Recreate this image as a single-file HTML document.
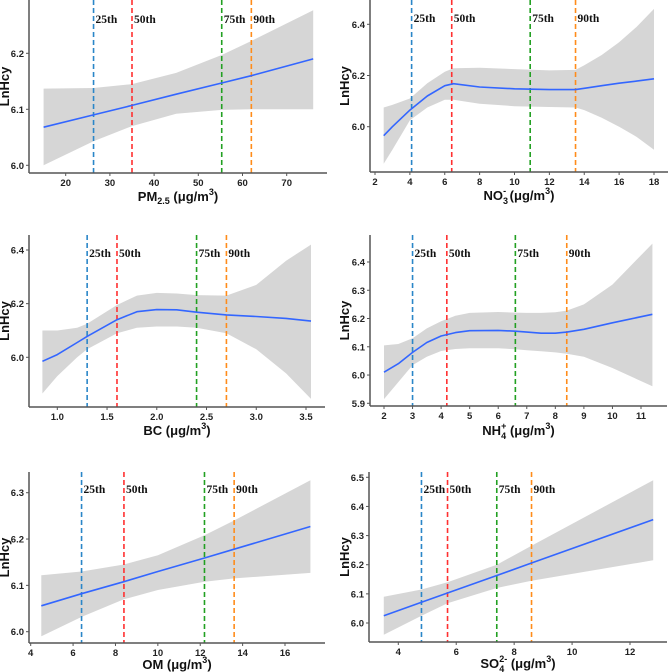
<!DOCTYPE html>
<html><head><meta charset="utf-8"><style>
body{margin:0;background:#fff}
svg{display:block}
.tk{font:bold 9.5px "Liberation Sans",sans-serif;fill:#222}
.pl{font:bold 11.5px "Liberation Serif",serif;fill:#111}
.yt{font:bold 13px "Liberation Sans",sans-serif;fill:#111}
.xt{font:bold 13px "Liberation Sans",sans-serif;fill:#111}
</style></head><body>
<svg id="c" width="669" height="672" xmlns="http://www.w3.org/2000/svg"></svg>
<script>
// ---- data ----
const pmX=[15,26.3,35,45,55.3,62,76];
const pmFit=[6.068,6.090,6.107,6.127,6.147,6.160,6.190];
const pmUp=[6.137,6.138,6.145,6.165,6.197,6.222,6.277];
const pmLo=[6.000,6.043,6.070,6.092,6.099,6.100,6.100];
const pmPct=[26.3,35,55.3,62];

const no3X=[2.5,3,4,5,6,6.5,8,10,12,13.5,14,15,16,17,18];
const no3Fit=[5.965,6.0,6.065,6.12,6.16,6.168,6.155,6.148,6.145,6.145,6.15,6.16,6.17,6.178,6.187];
const no3Up=[6.075,6.085,6.11,6.17,6.215,6.228,6.23,6.225,6.22,6.222,6.24,6.28,6.33,6.39,6.46];
const no3Lo=[5.855,5.91,6.025,6.075,6.105,6.105,6.09,6.08,6.077,6.075,6.065,6.035,6.0,5.96,5.91];
const no3Pct=[4.1,6.4,10.9,13.5];

const bcX=[0.85,1.0,1.2,1.3,1.6,1.8,2.0,2.2,2.4,2.7,3.0,3.3,3.55];
const bcFit=[5.985,6.01,6.055,6.078,6.14,6.17,6.178,6.177,6.168,6.158,6.152,6.145,6.135];
const bcUp=[6.10,6.10,6.11,6.125,6.195,6.23,6.24,6.238,6.232,6.23,6.27,6.36,6.42];
const bcLo=[5.865,5.93,6.0,6.03,6.09,6.11,6.115,6.115,6.11,6.09,6.03,5.94,5.845];
const bcPct=[1.3,1.6,2.4,2.7];

const nh4X=[2,2.5,3,3.5,4,4.5,5,6,6.6,7,7.5,8,8.4,9,10,11.4];
const nh4Fit=[6.01,6.04,6.08,6.115,6.138,6.15,6.157,6.158,6.155,6.152,6.148,6.148,6.152,6.162,6.185,6.215];
const nh4Up=[6.105,6.11,6.13,6.165,6.19,6.21,6.22,6.223,6.221,6.22,6.22,6.222,6.228,6.25,6.32,6.465];
const nh4Lo=[5.915,5.975,6.035,6.065,6.085,6.092,6.095,6.095,6.091,6.088,6.084,6.08,6.075,6.065,6.025,5.96];
const nh4Pct=[3.0,4.2,6.6,8.4];

const omX=[4.5,6.4,8.4,10,12.2,13.6,17.2];
const omFit=[6.056,6.082,6.108,6.130,6.159,6.178,6.227];
const omUp=[6.122,6.13,6.145,6.165,6.208,6.24,6.327];
const omLo=[5.99,6.032,6.07,6.09,6.108,6.115,6.127];
const omPct=[6.4,8.4,12.2,13.6];

const so4X=[3.5,4.8,5.7,7.4,8.6,12.8];
const so4Fit=[6.025,6.071,6.103,6.163,6.206,6.355];
const so4Up=[6.09,6.115,6.14,6.20,6.265,6.49];
const so4Lo=[5.96,6.025,6.068,6.12,6.145,6.215];
const so4Pct=[4.8,5.7,7.4,8.6];

const pctLabels=["25th","50th","75th","90th"];
const pctColors=["#2a86c8","#ff3030","#22a022","#ff8c1a"];

const NS="http://www.w3.org/2000/svg";
const svg=document.getElementById('c');
function mk(tag,attrs,parent){const e=document.createElementNS(NS,tag);for(const k in attrs)e.setAttribute(k,attrs[k]);(parent||svg).appendChild(e);return e;}

const panels=[
 {id:'pm25',X:pmX,F:pmFit,U:pmUp,L:pmLo,P:pmPct,ax:29,ay:173,top:0,right:327,x0:20,px0:65.7,x1:70,px1:286.7,y0:6.0,py0:165.3,y1:6.2,py1:53.3,xt:[20,30,40,50,60,70],yt:[6.0,6.1,6.2],xd:0,yd:1,labY:19,ytx:9,xty:201,title:['PM','2.5',' (μg/m','3',')'],mode:'sub'},
 {id:'no3',X:no3X,F:no3Fit,U:no3Up,L:no3Lo,P:no3Pct,ax:370,ay:172,top:0,right:668,x0:2,px0:375,x1:18,px1:654,y0:6.0,py0:126.7,y1:6.4,py1:24.3,xt:[2,4,6,8,10,12,14,16,18],yt:[6.0,6.2,6.4],xd:0,yd:1,labY:18,ytx:349,xty:200,title:['NO','3','-',' (μg/m','3',')'],mode:'ion'},
 {id:'bc',X:bcX,F:bcFit,U:bcUp,L:bcLo,P:bcPct,ax:29,ay:407,top:235,right:325,x0:1.0,px0:57.3,x1:3.5,px1:306,y0:6.0,py0:357.3,y1:6.4,py1:250,xt:[1.0,1.5,2.0,2.5,3.0,3.5],yt:[6.0,6.2,6.4],xd:1,yd:1,labY:253,ytx:9,xty:435,title:['BC (μg/m','3',')'],mode:'plain'},
 {id:'nh4',X:nh4X,F:nh4Fit,U:nh4Up,L:nh4Lo,P:nh4Pct,ax:370,ay:406,top:235,right:667,x0:2,px0:384,x1:11,px1:641,y0:5.9,py0:403.3,y1:6.4,py1:262,xt:[2,3,4,5,6,7,8,9,10,11],yt:[5.9,6.0,6.1,6.2,6.3,6.4],xd:0,yd:1,labY:253,ytx:349,xty:435,title:['NH','4','+',' (μg/m','3',')'],mode:'ion'},
 {id:'om',X:omX,F:omFit,U:omUp,L:omLo,P:omPct,ax:29,ay:643,top:472,right:325,x0:4,px0:30.7,x1:16,px1:285,y0:6.0,py0:631.7,y1:6.3,py1:492.7,xt:[4,6,8,10,12,14,16],yt:[6.0,6.1,6.2,6.3],xd:0,yd:1,labY:489,ytx:9,xty:669,title:['OM (μg/m','3',')'],mode:'plain'},
 {id:'so4',X:so4X,F:so4Fit,U:so4Up,L:so4Lo,P:so4Pct,ax:369,ay:642,top:472,right:667,x0:4,px0:398.3,x1:12,px1:630,y0:6.0,py0:623,y1:6.5,py1:477.3,xt:[4,6,8,10,12],yt:[6.0,6.1,6.2,6.3,6.4,6.5],xd:0,yd:1,labY:489,ytx:349,xty:668,title:['SO','4','2-',' (μg/m','3',')'],mode:'ion'}
];

panels.forEach(p=>{
 const sx=v=>p.px0+(v-p.x0)*(p.px1-p.px0)/(p.x1-p.x0);
 const sy=v=>p.py0+(v-p.y0)*(p.py1-p.py0)/(p.y1-p.y0);
 const g=mk('g',{});
 
 
 let d='M'+p.X.map((x,i)=>sx(x).toFixed(1)+','+sy(p.U[i]).toFixed(1)).join('L');
 for(let i=p.X.length-1;i>=0;i--) d+='L'+sx(p.X[i]).toFixed(1)+','+sy(p.L[i]).toFixed(1);
 const band=mk('path',{d:d+'Z',fill:'#d6d6d6','stroke':'none','stroke-linejoin':'round'},g);
 
 
 p.P.forEach((v,i)=>{
  const ln=mk('line',{x1:sx(v),x2:sx(v),y1:p.top,y2:p.ay,stroke:pctColors[i],'stroke-width':1.6,'stroke-dasharray':'5,3'},g);
  
  
  const t=mk('text',{x:sx(v)+2,y:p.labY+4,class:'pl'},g);
  t.textContent=pctLabels[i];
  
  
 });
 const fl=mk('polyline',{points:p.X.map((x,i)=>sx(x).toFixed(1)+','+sy(p.F[i]).toFixed(1)).join(' '),fill:'none',stroke:'#3366ff','stroke-width':1.6,'stroke-linejoin':'round'},g);
 
 
 const ya=mk('line',{x1:p.ax,x2:p.ax,y1:p.top,y2:p.ay,stroke:'#555','stroke-width':1.5},g);
 
 
 const xa=mk('line',{x1:p.ax,x2:p.right,y1:p.ay,y2:p.ay,stroke:'#555','stroke-width':1.5},g);
 
 
 p.xt.forEach(v=>{
  mk('line',{x1:sx(v),x2:sx(v),y1:p.ay,y2:p.ay+3,stroke:'#555','stroke-width':1},g);
  const t=mk('text',{x:sx(v),y:p.ay+13,class:'tk','text-anchor':'middle'},g);
  t.textContent=v.toFixed(p.xd);
  
  
 });
 p.yt.forEach(v=>{
  mk('line',{x1:p.ax-3,x2:p.ax,y1:sy(v),y2:sy(v),stroke:'#555','stroke-width':1},g);
  const t=mk('text',{x:p.ax-5,y:sy(v)+3.5,class:'tk','text-anchor':'end'},g);
  t.textContent=v.toFixed(p.yd);
  
  
 });
 const cy=(p.top+p.ay)/2;
 const yt=mk('text',{x:0,y:0,class:'yt','text-anchor':'middle',transform:'translate('+p.ytx+' '+cy+') rotate(-90)'},g);
 yt.textContent='LnHcy';
 
 
 const xt=mk('text',{x:(p.ax+p.right)/2,y:p.xty,class:'xt','text-anchor':'middle'},g);
 
 
 const T=p.title;
 function span(txt,dy,size,dx){const s=mk('tspan',{},xt);if(dy)s.setAttribute('dy',dy);if(dx)s.setAttribute('dx',dx);if(size)s.setAttribute('font-size',size);s.textContent=txt;return s;}
 if(p.mode==='plain'){span(T[0]);span(T[1],-6,9);span(T[2],6);}
 else if(p.mode==='sub'){span(T[0]);span(T[1],3,9);span(T[2],-3);span(T[3],-6,9);span(T[4],6);}
 else{span(T[0]);span(T[1],4,9);span(T[2],-10,9,-5);span(T[3],6);span(T[4],-6,9);span(T[5],6);}
});
</script>
</body></html>
